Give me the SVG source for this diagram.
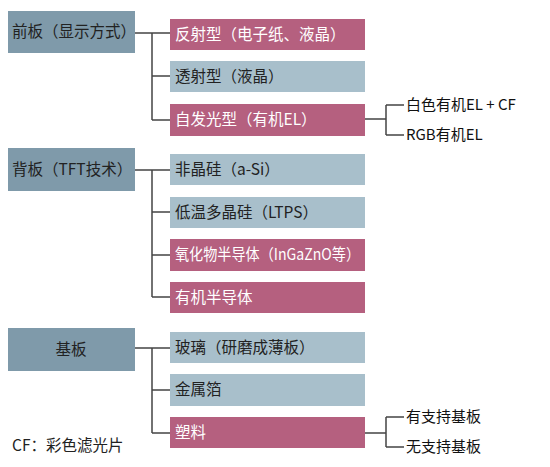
<svg xmlns="http://www.w3.org/2000/svg" width="550" height="467" viewBox="0 0 550 467">
<style>
text{font-family:"Noto Sans CJK SC","Noto Sans",sans-serif;font-size:15.5px;fill:#222}
.L{fill:#7f9aaa}
.P{fill:#b5607f}
.B{fill:#a8bfcb}
.w{fill:#fff}
.s{font-size:15px;fill:#111}
.c{fill:none;stroke:#444;stroke-width:1.5}
</style>
<rect width="550" height="467" fill="#fff"/>
<g id="front"><rect class="L" x="8" y="11" width="127" height="42"/><text x="12" y="37">前板（显示方式）</text></g>
<g id="reflect"><rect class="P" x="170" y="19" width="195" height="31"/><text class="w" x="175" y="40">反射型（电子纸、液晶）</text></g>
<g id="transmit"><rect class="B" x="170" y="61" width="195" height="31"/><text x="175" y="82">透射型（液晶）</text></g>
<g id="emissive"><rect class="P" x="170" y="104" width="195" height="32"/><text class="w" x="175" y="125">自发光型（有机EL）</text></g>
<g id="whiteel"><text class="s" x="406" y="110">白色有机EL + CF</text></g>
<g id="rgbel"><text class="s" x="406" y="140">RGB有机EL</text></g>
<g id="back"><rect class="L" x="8" y="148" width="127" height="43"/><text x="12" y="175">背板（TFT技术）</text></g>
<g id="asi"><rect class="B" x="170" y="154" width="195" height="31"/><text x="175" y="175">非晶硅（a-Si）</text></g>
<g id="ltps"><rect class="B" x="170" y="197" width="195" height="31"/><text x="175" y="218">低温多晶硅（LTPS）</text></g>
<g id="oxide"><rect class="P" x="170" y="239" width="195" height="32"/><text class="w" x="175" y="260" textLength="185" lengthAdjust="spacingAndGlyphs">氧化物半导体（InGaZnO等）</text></g>
<g id="organic"><rect class="P" x="170" y="282" width="195" height="31"/><text class="w" x="175" y="303">有机半导体</text></g>
<g id="substrate"><rect class="L" x="8" y="328" width="127" height="43"/><text x="71" y="355" text-anchor="middle">基板</text></g>
<g id="glass"><rect class="B" x="170" y="332" width="195" height="31"/><text x="175" y="353">玻璃（研磨成薄板）</text></g>
<g id="metal"><rect class="B" x="170" y="374" width="195" height="32"/><text x="175" y="395">金属箔</text></g>
<g id="plastic"><rect class="P" x="170" y="417" width="195" height="31"/><text class="w" x="175" y="438">塑料</text></g>
<g id="withsup"><text class="s" x="406" y="422">有支持基板</text></g>
<g id="nosup"><text class="s" x="406" y="452">无支持基板</text></g>
<g id="cfnote"><text x="12" y="451">CF：彩色滤光片</text></g>
<g id="connectors">
<path class="c" d="M135 33H170M152 33V120M152 76H170M152 120H170"/>
<path class="c" d="M365 119H386M386 105V135M386 105H404M386 135H404"/>
<path class="c" d="M135 170H170M152 170V297M152 212H170M152 255H170M152 297H170"/>
<path class="c" d="M135 348H170M152 348V433M152 390H170M152 433H170"/>
<path class="c" d="M365 433H386M386 417V447M386 417H404M386 447H404"/>
</g>
</svg>
